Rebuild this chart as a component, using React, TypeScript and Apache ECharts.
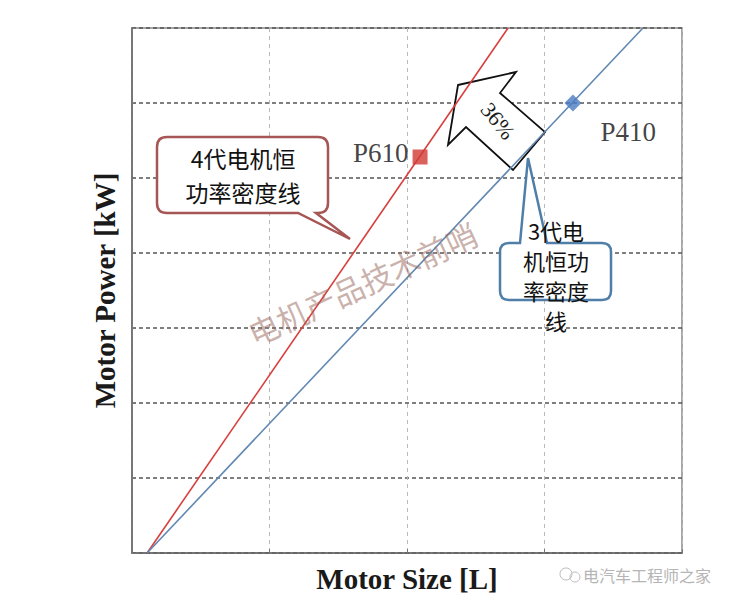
import React, { useEffect, useRef } from "react";
import * as echarts from "echarts";

// ---- data ----
const xTicks = [0, 1, 2, 3, 4];
const yTicks = [0, 1, 2, 3, 4, 5, 6, 7];
const gen4Line = [[0.11, 0], [2.735, 7]];
const gen3Line = [[0.11, 0], [3.716, 7]];
const p610Point = [2.095, 5.28];
const p410Point = [3.207, 6.0];
const pointNames = ["P610", "P410"];
const gen4Label = ["4代电机恒", "功率密度线"];
const gen3Label = ["3代电", "机恒功", "率密度", "线"];
const arrowText = "36%";
const watermark = "电机产品技术前哨";
const footerMark = "电汽车工程师之家";

const redCallout =
  "M167,137 L318,137 Q328,137 328,147 L328,203 Q328,213 318,213 L316,213 L350,239 L298,213 L167,213 Q157,213 157,203 L157,147 Q157,137 167,137 Z";
const blueCallout =
  "M509,243 L520,243 L528,158 L547,243 L602,243 Q611,243 611,252 L611,291 Q611,300 602,300 L509,300 Q500,300 500,291 L500,252 Q500,243 509,243 Z";
echarts.graphic.registerShape("calloutRed", echarts.graphic.extendPath(redCallout, {}));
echarts.graphic.registerShape("calloutBlue", echarts.graphic.extendPath(blueCallout, {}));

export default function App() {
  const ref = useRef<HTMLDivElement>(null);
  useEffect(() => {
    const chart = echarts.init(ref.current!, null, { renderer: "svg" });
    const serif = "'Liberation Serif', 'DejaVu Serif', serif";
    const cjk = "'Noto Sans CJK SC', sans-serif";
    const gen4Texts = gen4Label.map((t, i) => ({
      type: "text", z: 6, x: 243, y: 158 + i * 34,
      style: { text: t, font: `23px ${cjk}`, fill: "#111", align: "center", verticalAlign: "middle" },
    }));
    const gen3Texts = gen3Label.map((t, i) => ({
      type: "text", z: 6, x: 556, y: 230 + i * 30,
      style: { text: t, font: `22px ${cjk}`, fill: "#111", align: "center", verticalAlign: "middle" },
    }));
    chart.setOption({
      animation: false,
      backgroundColor: "#fff",
      grid: {
        left: 132, top: 28, right: 54, bottom: 53,
        show: true, borderColor: "#8a8a8a", borderWidth: 1.5,
      },
      xAxis: {
        type: "value", min: xTicks[0], max: xTicks[xTicks.length - 1], interval: 1,
        name: "Motor Size [L]", nameLocation: "middle", nameGap: 11,
        nameTextStyle: { fontFamily: serif, fontWeight: "bold", fontSize: 29, color: "#1a1a1a" },
        axisLabel: { show: false },
        axisLine: { lineStyle: { color: "#666", width: 1.5 } },
        axisTick: { inside: true, length: 4, lineStyle: { color: "#777" } },
        splitLine: { lineStyle: { type: [4, 4], color: "#b8b8b8", width: 1 } },
      },
      yAxis: {
        type: "value", min: yTicks[0], max: yTicks[yTicks.length - 1], interval: 1,
        name: "Motor Power [kW]", nameLocation: "middle", nameGap: 13,
        nameTextStyle: { fontFamily: serif, fontWeight: "bold", fontSize: 29, color: "#1a1a1a" },
        axisLabel: { show: false },
        axisLine: { lineStyle: { color: "#666", width: 1.5 } },
        axisTick: { inside: true, length: 4, lineStyle: { color: "#777" } },
        splitLine: { lineStyle: { type: [4, 3], color: "#555", width: 1.5 } },
      },
      series: [
        {
          type: "line", data: gen4Line, symbol: "none",
          lineStyle: { color: "#d8403e", width: 1.6 }, z: 3,
        },
        {
          type: "line", data: gen3Line, symbol: "none",
          lineStyle: { color: "#6288b2", width: 1.6 }, z: 3,
        },
        {
          type: "scatter", data: [p610Point], symbol: "rect", symbolSize: 15, z: 4,
          itemStyle: { color: "#d13b34" },
          label: {
            show: true, position: "left", distance: 4, offset: [0, -4],
            formatter: pointNames[0], fontFamily: serif, fontSize: 27, color: "#111",
          },
        },
        {
          type: "scatter", data: [p410Point], symbol: "diamond", symbolSize: 17, z: 4,
          itemStyle: { color: "#4a7cc2" },
          label: {
            show: true, position: "right", distance: 5, offset: [14, 29],
            formatter: pointNames[1], fontFamily: serif, fontSize: 27, color: "#111",
          },
        },
      ],
      graphic: [
        {
          type: "polygon", z: 1,
          shape: {
            points: [
              [458, 85], [516, 72], [500, 93], [545, 132], [513, 170], [466, 127], [448, 145],
            ],
          },
          style: { fill: "#fff", stroke: "#111", lineWidth: 1.8 },
        },
        {
          type: "text", z: 5, x: 498, y: 121, rotation: -0.9,
          style: {
            text: arrowText, font: `22px ${serif}`, fill: "#1a1a1a",
            align: "center", verticalAlign: "middle",
          },
        },
        {
          type: "calloutRed", z: 5, x: 0, y: 0,
          style: { fill: "#fff", stroke: "#a65654", lineWidth: 2.5 },
        },
        ...gen4Texts,
        {
          type: "calloutBlue", z: 5, x: 0, y: 0,
          style: { fill: "#fff", stroke: "#4f7ea8", lineWidth: 2.5 },
        },
        ...gen3Texts,
        {
          type: "text", z: 7, x: 362, y: 283, rotation: 0.43,
          style: {
            text: watermark, font: `31px ${cjk}`, fill: "rgba(150,100,90,0.5)",
            align: "center", verticalAlign: "middle",
          },
        },
        {
          type: "circle", z: 7, shape: { cx: 566, cy: 574, r: 6 },
          style: { fill: "none", stroke: "#bbb", lineWidth: 1 },
        },
        {
          type: "circle", z: 7, shape: { cx: 575, cy: 577, r: 5 },
          style: { fill: "none", stroke: "#bbb", lineWidth: 1 },
        },
        {
          type: "text", z: 7, x: 583, y: 575,
          style: {
            text: footerMark, font: `16px ${cjk}`, fill: "#b5b5b5",
            align: "left", verticalAlign: "middle",
          },
        },
      ],
    });
    return () => chart.dispose();
  }, []);
  return (
    <div
      ref={ref}
      style={{ position: "absolute", left: 0, top: 0, width: 736, height: 606 }}
    />
  );
}
